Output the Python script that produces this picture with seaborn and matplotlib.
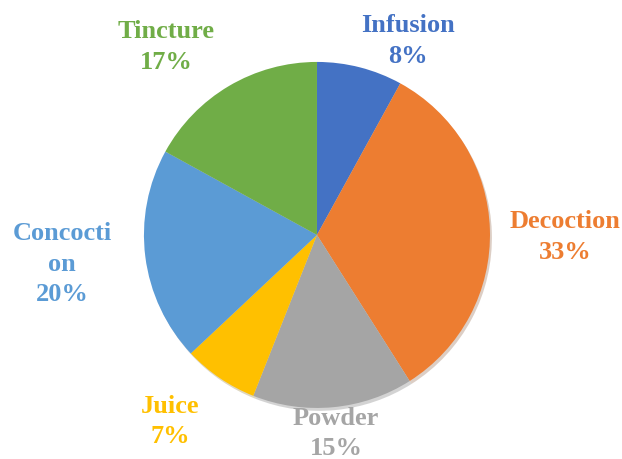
import matplotlib
matplotlib.use("Agg")
import matplotlib.pyplot as plt
import seaborn as sns

sns.set_theme(style="white")
plt.rcParams['font.family'] = ['Liberation Serif', 'DejaVu Serif']

categories = ["Infusion", "Decoction", "Powder", "Juice", "Concoction", "Tincture"]
values = [8, 33, 15, 7, 20, 17]
label_texts = ["Infusion\n8%", "Decoction\n33%", "Powder\n15%", "Juice\n7%", "Concocti\non\n20%", "Tincture\n17%"]
colors = ["#4472C4", "#ED7D31", "#A5A5A5", "#FFC000", "#5B9BD5", "#70AD47"]

# layout: label centers in pie-radius units
label_pos = [(0.526, 1.121), (1.434, -0.012), (0.110, -1.148), (-0.850, -1.076), (-1.474, -0.168), (-0.873, 1.086)]

fig = plt.figure(figsize=(6.22, 4.59), dpi=100)
ax = fig.add_axes([0, 0, 1, 1])
wedges, _ = ax.pie(values, colors=colors, startangle=90, counterclock=False,
                   radius=1.0, wedgeprops=dict(linewidth=0),
                   shadow=dict(ox=0.008, oy=-0.012, shade=0.5, alpha=0.25))
for txt, (x, y), c in zip(label_texts, label_pos, colors):
    ax.text(x, y, txt, ha="center", va="center", color=c, fontsize=19,
            fontweight="bold", linespacing=1.4)
ax.set_xlim(-1.832, 1.763)
ax.set_ylim(-1.295, 1.358)
ax.set_aspect("auto")
ax.axis("off")
fig.savefig("out.png", dpi=100)
